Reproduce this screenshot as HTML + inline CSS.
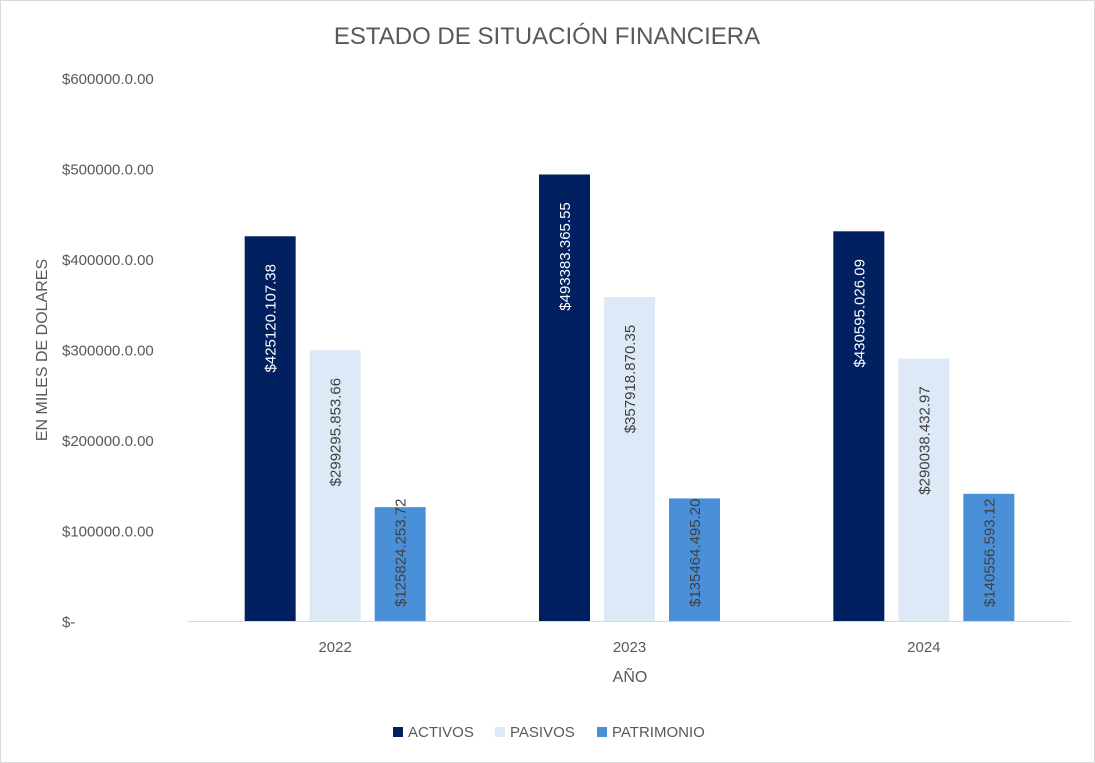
<!DOCTYPE html>
<html><head><meta charset="utf-8"><style>
body{margin:0;background:#fff;}
svg{display:block;font-family:"Liberation Sans",Arial,sans-serif;}
</style></head><body>
<svg id="chart" width="1095" height="763">
<rect x="0.5" y="0.5" width="1094" height="762" fill="#fff" stroke="#d9d9d9"/>
<text x="547" y="44" text-anchor="middle" font-size="24" fill="#595959">ESTADO DE SITUACIÓN FINANCIERA</text>
<text transform="translate(47,350) rotate(-90)" text-anchor="middle" font-size="16" fill="#595959">EN MILES DE DOLARES</text>
<text x="630" y="682" text-anchor="middle" font-size="16" fill="#595959">AÑO</text>
<g id="yticks"></g><g id="bars"></g><g id="xticks"></g>
<g>
<rect x="393" y="727" width="10" height="10" fill="#002060"/>
<text x="408" y="737" font-size="15" fill="#595959">ACTIVOS</text>
<rect x="495" y="727" width="10" height="10" fill="#dde9f7"/>
<text x="510" y="737" font-size="15" fill="#595959">PASIVOS</text>
<rect x="597" y="727" width="10" height="10" fill="#4a90d9"/>
<text x="612" y="737" font-size="15" fill="#595959">PATRIMONIO</text>
</g>
</svg>
<script>
const categories=["2022","2023","2024"];
const activos=[425120.10738,493383.36555,430595.02609];
const pasivos=[299295.85366,357918.87035,290038.43297];
const patrimonio=[125824.25372,135464.49520,140556.59312];
const activosLabels=["$425120.107.38","$493383.365.55","$430595.026.09"];
const pasivosLabels=["$299295.853.66","$357918.870.35","$290038.432.97"];
const patrimonioLabels=["$125824.253.72","$135464.495.20","$140556.593.12"];
const yTicks=[0,100000,200000,300000,400000,500000,600000];
const yTickLabels=["$-","$100000.0.00","$200000.0.00","$300000.0.00","$400000.0.00","$500000.0.00","$600000.0.00"];
const NS="http://www.w3.org/2000/svg";
const plotL=188,plotR=1071,y0=621,yTop=78,yMax=600000;
function y(v){return y0-(v/yMax)*(y0-yTop);}
const catW=(plotR-plotL)/categories.length;
function xc(i){return plotL+catW*(i+0.5);}
function mk(t,a,p){const e=document.createElementNS(NS,t);for(const k in a)e.setAttribute(k,a[k]);p.appendChild(e);return e;}
const yt=document.getElementById('yticks');
yTicks.forEach((v,i)=>{
 const t=mk('text',{x:62,y:y(v)+6,'font-size':15,fill:'#595959'},yt);
 
 
 t.textContent=yTickLabels[i];
});
const ax=mk('line',{x1:plotL,x2:plotR,y1:y0+0.5,y2:y0+0.5,stroke:'#d9d9d9'},yt);


const bg=document.getElementById('bars');
const series=[{d:activos,l:activosLabels,c:'#002060',tc:'#fff',n:'activos'},{d:pasivos,l:pasivosLabels,c:'#dde9f7',tc:'#404040',n:'pasivos'},{d:patrimonio,l:patrimonioLabels,c:'#4a90d9',tc:'#404040',n:'patrimonio'}];
const bw=51,gap=14;
categories.forEach((c,i)=>{
 series.forEach((s,j)=>{
  const x=xc(i)+(j-1)*(bw+gap)-bw/2;
  const top=y(s.d[i]);
  const r=mk('rect',{x:x,y:top,width:bw,height:y0-top,fill:s.c},bg);
  
  
  const len=s.l[i].length*9.3;
  const base=Math.min(top+6+len,607);
  const t=mk('text',{transform:`translate(${x+bw/2+5.5},${base}) rotate(-90)`,'font-size':15,fill:s.tc},bg);
  
  
  t.textContent=s.l[i];
 });
 const xt=mk('text',{x:xc(i),y:652,'text-anchor':'middle','font-size':15,fill:'#595959'},document.getElementById('xticks'));
 
 
 xt.textContent=c;
});
</script>
</body></html>
